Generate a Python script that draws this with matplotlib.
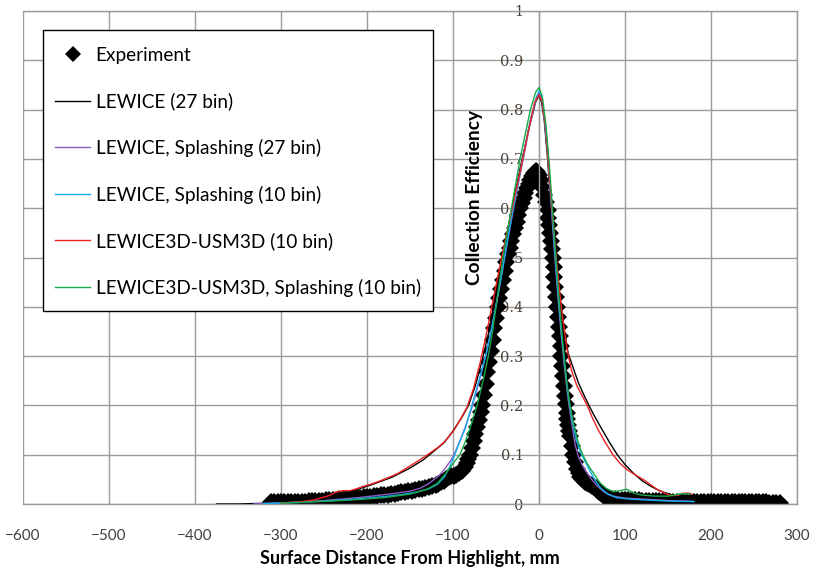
import matplotlib
matplotlib.use("Agg")
import matplotlib.pyplot as plt
from matplotlib.patches import Rectangle

# ---- Experiment (dense measured points) ----
exp_x = [-312, -308, -304, -300, -296, -292, -288, -284, -280, -276, -272, -268, -264, -260,
         -256, -252, -248, -244, -240, -236, -232, -228, -224, -220, -216, -212, -208, -204,
         -200, -196, -192, -188, -184, -180, -176, -172, -168, -164, -160, -156, -152, -148,
         -144, -140, -136, -132, -128, -124, -120,
         -117, -114, -111, -108, -105, -102, -99, -96, -93, -90,
         -88, -86, -84, -82, -80, -78, -76, -74, -72, -70, -68, -66, -64, -62, -60, -58, -56,
         -54, -52, -50, -48, -46, -44, -42, -40, -38, -36, -34, -32, -30, -28, -26, -24, -22,
         -20, -18, -16, -14, -12, -10, -8, -6, -4, -2, 0,
         2, 4, 6, 8, 10,
         11, 12, 13, 14, 15, 16, 17, 18, 19, 20, 21, 22, 23, 24, 25, 26, 27, 28, 29, 30, 31,
         32, 33, 34, 35, 36,
         38, 40, 42, 44, 46, 48, 50, 52, 54, 56, 58, 60, 62, 64, 66, 68, 70, 72, 74, 76, 78,
         80, 82,
         85, 88,
         92, 96, 100, 104, 108, 112, 116, 120, 124, 128, 132, 136, 140, 144,
         148, 152, 156, 160, 164, 168, 172, 176, 180, 184, 188, 192, 196, 200, 204, 208, 212,
         216, 220, 224, 228, 232, 236, 240, 244, 248, 252, 256, 260, 264,
         268, 272, 276, 280]
exp_y = [0.004, 0.004, 0.004, 0.004, 0.004, 0.005, 0.005, 0.005, 0.005, 0.005, 0.005, 0.006,
         0.006, 0.006, 0.007, 0.007, 0.008, 0.008, 0.009, 0.009, 0.010, 0.010, 0.011, 0.011,
         0.012, 0.012, 0.013, 0.014, 0.015, 0.015, 0.016, 0.017, 0.018, 0.018, 0.019, 0.020,
         0.021, 0.022, 0.024, 0.025, 0.026, 0.027, 0.028, 0.030, 0.031, 0.033, 0.034, 0.036,
         0.038,
         0.041, 0.044, 0.047, 0.051, 0.054, 0.056, 0.057, 0.059, 0.062, 0.066,
         0.070, 0.076, 0.084, 0.092, 0.100, 0.114, 0.128, 0.143, 0.157, 0.171, 0.186, 0.200,
         0.222, 0.244, 0.267, 0.289, 0.311, 0.333, 0.356, 0.378, 0.400, 0.418, 0.436, 0.455,
         0.473, 0.491, 0.507, 0.520, 0.533, 0.547, 0.560, 0.573, 0.587, 0.600, 0.610, 0.620,
         0.630, 0.640, 0.650, 0.658, 0.666, 0.672, 0.675, 0.674, 0.668,
         0.658, 0.643, 0.627, 0.612, 0.596,
         0.581, 0.565, 0.549, 0.533, 0.517, 0.500, 0.480, 0.460, 0.440, 0.420, 0.400, 0.380,
         0.360, 0.340, 0.320, 0.300, 0.280, 0.260, 0.240, 0.220, 0.202, 0.185, 0.172, 0.160,
         0.149, 0.138,
         0.118, 0.100, 0.085, 0.072, 0.062, 0.055, 0.051, 0.048, 0.045, 0.043, 0.041, 0.039,
         0.037, 0.035, 0.032, 0.029, 0.025, 0.022, 0.019, 0.016, 0.014, 0.012, 0.011,
         0.010, 0.010,
         0.009, 0.009, 0.009, 0.008, 0.008, 0.008, 0.008, 0.007, 0.007, 0.007, 0.007, 0.006,
         0.006, 0.006,
         0.005, 0.005, 0.005, 0.005, 0.005, 0.005, 0.005, 0.005, 0.005, 0.005, 0.005, 0.005,
         0.005, 0.005, 0.005, 0.005, 0.005,
         0.004, 0.004, 0.004, 0.004, 0.004, 0.004, 0.004, 0.004, 0.004, 0.004, 0.004, 0.004,
         0.004,
         0.003, 0.003, 0.003, 0.003]

# ---- LEWICE (27 bin) ----
lew_x = [-375, -350, -330, -310, -290, -270, -250, -230, -210, -190, -170, -150, -135, -123,
         -110, -100, -90, -82, -74, -66, -58, -50, -42, -32, -22, -12, -4, 0, 3, 6, 10, 14, 18,
         22, 27, 30, 34, 40, 46, 52, 58, 64, 72, 82, 91, 100, 110, 120, 130, 140, 155, 170,
         190, 220, 250]
lew_y = [0.000, 0.000, 0.001, 0.002, 0.004, 0.007, 0.012, 0.020, 0.030, 0.042, 0.055, 0.073,
         0.089, 0.106, 0.125, 0.148, 0.175, 0.200, 0.240, 0.292, 0.352, 0.430, 0.505, 0.595,
         0.680, 0.760, 0.815, 0.830, 0.815, 0.780, 0.700, 0.600, 0.515, 0.445, 0.385, 0.345,
         0.305, 0.275, 0.245, 0.222, 0.200, 0.180, 0.155, 0.125, 0.100, 0.080, 0.062, 0.047,
         0.036, 0.027, 0.018, 0.013, 0.009, 0.006, 0.004]

# ---- LEWICE, Splashing (27 bin) ----
pur_x = [-332, -310, -290, -270, -250, -230, -210, -190, -170, -150, -138, -127, -116, -108,
         -102, -98, -92, -86, -78, -70, -62, -54, -46, -38, -30, -20, -10, -3, 0, 3, 6, 10,
         14, 18, 22, 26, 30, 34, 38, 42, 46, 50, 54, 58, 62, 68, 76, 86, 100, 120, 150, 180]
pur_y = [0.000, 0.002, 0.003, 0.005, 0.007, 0.010, 0.013, 0.017, 0.021, 0.026, 0.032, 0.043,
         0.058, 0.075, 0.090, 0.103, 0.128, 0.155, 0.196, 0.245, 0.300, 0.365, 0.440, 0.520,
         0.595, 0.685, 0.775, 0.825, 0.835, 0.825, 0.785, 0.710, 0.610, 0.510, 0.420, 0.340,
         0.270, 0.210, 0.165, 0.120, 0.095, 0.080, 0.068, 0.058, 0.048, 0.036, 0.024, 0.016,
         0.012, 0.010, 0.007, 0.005]

# ---- LEWICE, Splashing (10 bin) ----
blu_x = [-320, -300, -280, -260, -240, -220, -200, -180, -160, -140, -128, -118, -110, -104,
         -98, -92, -86, -78, -70, -62, -54, -46, -38, -30, -20, -10, -3, 0, 3, 6, 10, 14, 18,
         22, 26, 30, 34, 38, 42, 46, 50, 54, 58, 62, 66, 72, 80, 90, 105, 125, 150, 180]
blu_y = [0.001, 0.002, 0.003, 0.005, 0.007, 0.009, 0.012, 0.015, 0.019, 0.025, 0.031, 0.040,
         0.055, 0.075, 0.100, 0.127, 0.152, 0.200, 0.250, 0.300, 0.365, 0.440, 0.520, 0.600,
         0.690, 0.780, 0.825, 0.838, 0.830, 0.790, 0.720, 0.620, 0.520, 0.430, 0.350, 0.280,
         0.220, 0.175, 0.140, 0.115, 0.098, 0.085, 0.071, 0.058, 0.046, 0.032, 0.020, 0.013,
         0.010, 0.008, 0.006, 0.005]

# ---- LEWICE3D-USM3D (10 bin) ----
red_x = [-300, -280, -262, -252, -244, -236, -228, -220, -212, -204, -196, -186, -176, -164,
         -152, -140, -128, -118, -110, -100, -92, -84, -76, -68, -60, -52, -44, -36, -28, -20,
         -12, -5, 0, 4, 8, 12, 16, 20, 24, 28, 33, 38, 44, 50, 56, 62, 69, 76, 86, 94, 102,
         111, 121, 129, 137, 144, 150, 156, 162, 168, 174, 178]
red_y = [0.002, 0.004, 0.008, 0.013, 0.017, 0.024, 0.027, 0.027, 0.031, 0.036, 0.040, 0.046,
         0.053, 0.062, 0.075, 0.088, 0.102, 0.114, 0.126, 0.147, 0.170, 0.195, 0.235, 0.290,
         0.355, 0.425, 0.495, 0.560, 0.625, 0.690, 0.760, 0.815, 0.830, 0.815, 0.760, 0.670,
         0.580, 0.500, 0.430, 0.370, 0.310, 0.270, 0.240, 0.220, 0.200, 0.175, 0.150, 0.128,
         0.100, 0.083, 0.070, 0.060, 0.050, 0.040, 0.030, 0.024, 0.019, 0.017, 0.018, 0.022,
         0.022, 0.020]

# ---- LEWICE3D-USM3D, Splashing (10 bin) ----
grn_x = [-300, -270, -240, -210, -180, -150, -130, -118, -107, -100, -92, -86, -80, -72, -65,
         -59, -54, -50, -42, -32, -22, -10, -4, 0, 4, 8, 12, 16, 20, 24, 28, 32, 36, 40, 44,
         48, 52, 56, 62, 67, 71, 78, 86, 94, 102, 110, 120, 135, 150, 160, 168, 176]
grn_y = [0.002, 0.004, 0.006, 0.009, 0.013, 0.020, 0.030, 0.042, 0.065, 0.082, 0.100, 0.125,
         0.155, 0.200, 0.250, 0.300, 0.350, 0.400, 0.500, 0.600, 0.700, 0.800, 0.835, 0.845,
         0.825, 0.770, 0.690, 0.590, 0.490, 0.400, 0.320, 0.250, 0.200, 0.165, 0.135, 0.112,
         0.096, 0.082, 0.066, 0.053, 0.043, 0.032, 0.025, 0.027, 0.030, 0.022, 0.018, 0.016,
         0.016, 0.019, 0.021, 0.020]

x_ticks = [-600, -500, -400, -300, -200, -100, 0, 100, 200, 300]
y_ticks = [0, 0.1, 0.2, 0.3, 0.4, 0.5, 0.6, 0.7, 0.8, 0.9, 1]
y_tick_labels = ["0", "0.1", "0.2", "0.3", "0.4", "0.5", "0.6", "0.7", "0.8", "0.9", "1"]

W, H = 816, 568
fig = plt.figure(figsize=(W / 100, H / 100), dpi=100)
AX_L, AX_T, AX_W, AX_H = 23, 11, 774, 493
ax = fig.add_axes([AX_L / W, 1 - (AX_T + AX_H) / H, AX_W / W, AX_H / H])


def ax_frac(px, py):
    """Pixel position on the canvas -> axes fraction."""
    return (px - AX_L) / AX_W, (AX_T + AX_H - py) / AX_H


grid_c = "#9c9c9c"
ax.set_xlim(-600, 300)
ax.set_ylim(0, 1)
ax.set_xticks(x_ticks)
ax.set_yticks(y_ticks)
ax.set_yticklabels(y_tick_labels)
ax.grid(True, color=grid_c, linewidth=1.0, zorder=0)
ax.set_axisbelow(True)

for s in ["top", "right", "bottom"]:
    ax.spines[s].set_color(grid_c)
    ax.spines[s].set_linewidth(1.0)
ax.spines["left"].set_position(("data", 0))
ax.spines["left"].set_color(grid_c)
ax.spines["left"].set_linewidth(1.0)

ax.tick_params(axis="x", length=0, pad=18, labelsize=11, labelcolor="#404040")
ax.tick_params(axis="y", length=0, pad=11, labelsize=10.5, labelcolor="#4a4035")
for lab in ax.get_xticklabels():
    lab.set_family("Lato")
for lab in ax.get_yticklabels():
    lab.set_family("DejaVu Serif")

# measured data as dense diamonds, model curves as thin lines above them
ax.plot(exp_x, exp_y, linestyle="none", marker="D", markersize=9.5, markeredgewidth=0,
        color="black", label="Experiment", zorder=2)
ax.plot(lew_x, lew_y, color="#000000", lw=1.0, label="LEWICE (27 bin)", zorder=3)
ax.plot(pur_x, pur_y, color="#8a5cc0", lw=1.0, label="LEWICE, Splashing (27 bin)", zorder=3)
ax.plot(blu_x, blu_y, color="#12aef0", lw=1.0, label="LEWICE, Splashing (10 bin)", zorder=3)
ax.plot(red_x, red_y, color="#f02020", lw=1.0, label="LEWICE3D-USM3D (10 bin)", zorder=3)
ax.plot(grn_x, grn_y, color="#16a84a", lw=1.0, label="LEWICE3D-USM3D, Splashing (10 bin)", zorder=3)

# legend box drawn as its own rectangle, entries placed inside it
bx0, by0 = ax_frac(43, 311)
bx1, by1 = ax_frac(433, 30)
ax.add_patch(Rectangle((bx0, by0), bx1 - bx0, by1 - by0, transform=ax.transAxes,
                       facecolor="white", edgecolor="black", linewidth=1.0, zorder=9))
leg = ax.legend(loc="upper left", bbox_to_anchor=ax_frac(55, 47),
                borderaxespad=0, frameon=False, numpoints=1, handlelength=1.85,
                handletextpad=0.28, borderpad=0, labelspacing=1.5, markerscale=0.85,
                prop={"family": "Lato", "size": 13.7})
leg.set_zorder(10)

ax.set_xlabel("Surface Distance From Highlight, mm", fontfamily="Lato",
              fontweight="bold", fontsize=13.0, color="black")
ax.xaxis.set_label_coords(0.5, ax_frac(0, 550)[1])
ax.set_ylabel("Collection Efficiency", fontfamily="Lato", fontweight="bold",
              fontsize=13.8, color="black")
ax.yaxis.set_label_coords(*ax_frac(483, 197))

fig.savefig("out.png", dpi=100)
